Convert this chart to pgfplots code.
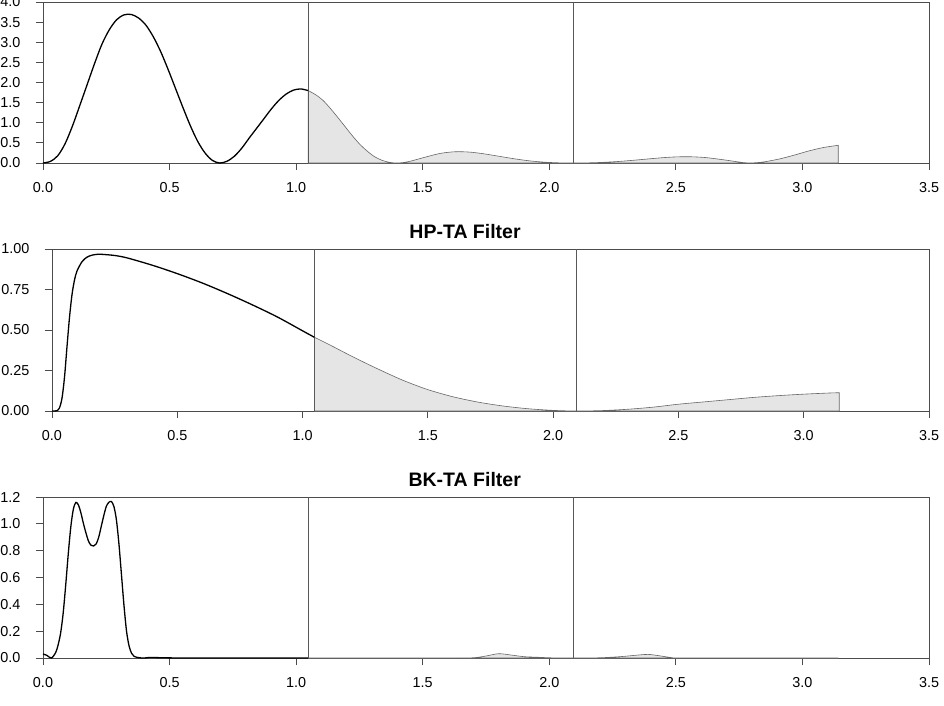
\documentclass[border=0pt]{standalone}
\usepackage{pgfplots}
\usepackage{pgfplotstable}
\pgfplotsset{compat=1.18}
\usepackage{fontspec}
\setmainfont{Liberation Sans}

\pgfplotstableread{
x y
0.0000 0
0.0291 0.04
0.0582 0.18
0.0873 0.48
0.1164 0.92
0.1454 1.43
0.1745 1.95
0.2036 2.47
0.2327 2.95
0.2618 3.31
0.2909 3.56
0.3200 3.68
0.3491 3.69
0.3782 3.60
0.4072 3.42
0.4363 3.13
0.4654 2.76
0.4945 2.32
0.5236 1.85
0.5527 1.38
0.5818 0.93
0.6109 0.54
0.6400 0.25
0.6690 0.065
0.6981 0
0.7272 0.045
0.7563 0.17
0.7854 0.37
0.8145 0.62
0.8436 0.86
0.8727 1.10
0.9017 1.34
0.9308 1.55
0.9599 1.71
0.9890 1.81
1.0181 1.84
1.0472 1.80
1.0763 1.70
1.1054 1.56
1.1345 1.36
1.1636 1.14
1.1926 0.91
1.2217 0.68
1.2508 0.47
1.2799 0.30
1.3090 0.16
1.3381 0.07
1.3672 0.018
1.3963 0
1.4254 0.013
1.4544 0.05
1.5126 0.15
1.5708 0.24
1.6290 0.28
1.6872 0.27
1.7453 0.225
1.8035 0.165
1.8617 0.105
1.9199 0.055
1.9780 0.022
2.0362 0.005
2.0944 0
2.1526 0.004
2.2108 0.016
2.2689 0.036
2.3271 0.065
2.3853 0.098
2.4435 0.13
2.5016 0.152
2.5598 0.155
2.6180 0.135
2.6762 0.09
2.7344 0.038
2.7634 0.012
2.7925 0.001
2.8216 0.01
2.8507 0.03
2.9089 0.10
2.9671 0.195
3.0252 0.30
3.0834 0.385
3.1416 0.44
}\taone

\pgfplotstableread{
x y
0 0
0.01 0
0.02 0.002
0.03 0.02
0.04 0.08
0.05 0.21
0.06 0.40
0.07 0.58
0.08 0.72
0.09 0.81
0.10 0.865
0.12 0.922
0.14 0.950
0.16 0.962
0.18 0.967
0.20 0.967
0.25 0.960
0.30 0.945
0.40 0.900
0.50 0.848
0.60 0.790
0.70 0.725
0.80 0.655
0.90 0.580
1.00 0.495
1.0472 0.455
1.10 0.415
1.20 0.335
1.30 0.260
1.40 0.190
1.50 0.132
1.60 0.088
1.70 0.055
1.80 0.031
1.90 0.014
2.00 0.004
2.0944 0.0
2.20 0.003
2.30 0.011
2.40 0.024
2.50 0.042
2.60 0.056
2.70 0.070
2.80 0.084
2.90 0.095
3.00 0.104
3.10 0.111
3.1416 0.113
}\hpta

\pgfplotstableread{
x y
0 0.03
0.015 0.02
0.033 0.0
0.05 0.04
0.06 0.10
0.07 0.19
0.08 0.34
0.09 0.55
0.10 0.78
0.11 0.98
0.12 1.11
0.13 1.16
0.14 1.14
0.15 1.08
0.16 1.00
0.17 0.93
0.18 0.87
0.19 0.84
0.20 0.835
0.21 0.85
0.22 0.90
0.23 0.98
0.24 1.06
0.25 1.13
0.26 1.16
0.27 1.167
0.28 1.13
0.29 1.03
0.30 0.85
0.31 0.62
0.32 0.39
0.33 0.20
0.34 0.09
0.35 0.035
0.36 0.012
0.38 0.002
0.40 0.0
0.42 0.004
0.45 0.003
0.50 0.001
0.60 0
0.80 0
1.0472 0
1.30 0
1.60 0
1.70 0.002
1.75 0.015
1.80 0.032
1.85 0.022
1.90 0.010
1.95 0.006
2.00 0.002
2.05 0
2.0944 0
2.20 0.002
2.28 0.010
2.35 0.022
2.39 0.027
2.43 0.018
2.48 0.004
2.52 0
2.80 0
3.1416 0
}\bkta

\pgfplotsset{
 rstyle/.style={
  scale only axis,
  xmin=0, xmax=3.5,
  xtick={0,0.5,1,1.5,2,2.5,3,3.5},
  tick pos=left,
  tick align=outside,
  major tick length=7pt,
  axis line style={black!70, line width=0.8pt},
  every tick/.append style={draw=black!70, line width=0.8pt},
  ticklabel style={font=\fontsize{14.4}{16}\selectfont},
  /pgf/number format/assume math mode=true,
  xticklabel style={yshift=-9pt, /pgf/number format/fixed, /pgf/number format/fixed zerofill, /pgf/number format/precision=1},
  yticklabel style={xshift=-12pt},
  clip=false,
  title style={font=\bfseries\fontsize{19.5}{21}\selectfont, anchor=base, yshift=5pt},
  anchor=south west,
 },
 fillstyle/.style={fill=black!10, draw=black!60, line width=0.6pt, smooth, restrict x to domain=1.047:3.142},
 curvestyle/.style={black, line width=1.3pt, smooth, restrict x to domain=0:1.048},
 vline/.style={black!65, line width=0.7pt},
}

\begin{document}
\begin{tikzpicture}
\useasboundingbox (0,0) rectangle (944pt,-705pt);

\begin{axis}[rstyle, at={(43pt,-163pt)}, width=886pt, height=161pt,
  ymin=0, ymax=4, ytick={0,0.5,1,1.5,2,2.5,3,3.5,4},
  yticklabel style={/pgf/number format/fixed, /pgf/number format/fixed zerofill, /pgf/number format/precision=1}]
\addplot[fillstyle] table {\taone} \closedcycle;
\addplot[vline] coordinates {(1.0472,0) (1.0472,4)};
\addplot[vline] coordinates {(2.0944,0) (2.0944,4)};
\addplot[curvestyle] table {\taone};
\end{axis}

\begin{axis}[rstyle, at={(52pt,-411pt)}, width=877pt, height=162pt,
  title={HP-TA Filter}, title style={at={(0.471,1)}},
  ymin=0, ymax=1, ytick={0,0.25,0.5,0.75,1},
  yticklabel style={/pgf/number format/fixed, /pgf/number format/fixed zerofill, /pgf/number format/precision=2}]
\addplot[fillstyle] table {\hpta} \closedcycle;
\addplot[vline] coordinates {(1.0472,0) (1.0472,1)};
\addplot[vline] coordinates {(2.0944,0) (2.0944,1)};
\addplot[curvestyle] table {\hpta};
\end{axis}

\begin{axis}[rstyle, at={(43pt,-658pt)}, width=886pt, height=161pt,
  title={BK-TA Filter}, title style={at={(0.476,1)}},
  ymin=0, ymax=1.2, ytick={0,0.2,0.4,0.6,0.8,1,1.2},
  yticklabel style={/pgf/number format/fixed, /pgf/number format/fixed zerofill, /pgf/number format/precision=1}]
\addplot[fillstyle] table {\bkta} \closedcycle;
\addplot[vline] coordinates {(1.0472,0) (1.0472,1.2)};
\addplot[vline] coordinates {(2.0944,0) (2.0944,1.2)};
\addplot[curvestyle] table {\bkta};
\end{axis}
\end{tikzpicture}
\end{document}
